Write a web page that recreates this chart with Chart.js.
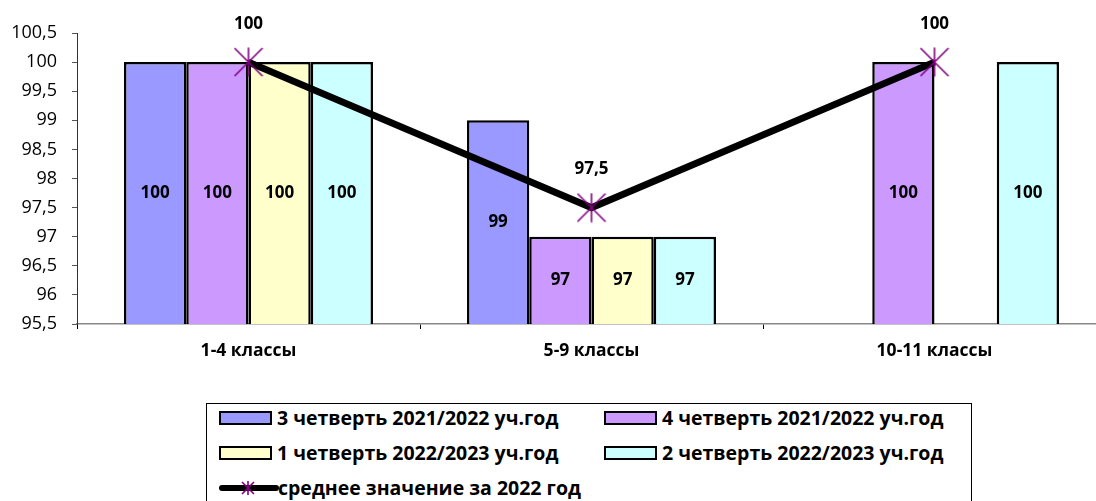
<!DOCTYPE html>
<html lang="ru">
<head>
<meta charset="utf-8">
<title>Успеваемость</title>
<script src="https://cdn.jsdelivr.net/npm/chart.js@4/dist/chart.umd.min.js"></script>
<style>
  html, body { margin: 0; padding: 0; background: #fff; overflow: hidden; }
  body { width: 1096px; height: 501px; position: relative; font-family: "Open Sans", sans-serif; }
  #wrap { position: absolute; left: 0; top: 0; width: 1106px; height: 380px; }
  #legend { position: absolute; left: 206px; top: 403px; width: 766px; height: 120px; border: 1px solid #000; box-sizing: border-box; }
  .item { position: absolute; height: 28px; font-weight: bold; font-size: 19.5px; line-height: 28px; color: #000; white-space: nowrap; }
  .sw { position: absolute; top: 7px; width: 53px; height: 14px; border: 2px solid #000; box-sizing: border-box; }
  .item span { position: absolute; top: 0; }
</style>
</head>
<body>
<div id="wrap"><canvas id="chart" width="1106" height="380"></canvas></div>
<div id="legend"></div>
<script>
  const categories = ["1-4 классы", "5-9 классы", "10-11 классы"];
  const seriesNames = [
    "3 четверть 2021/2022 уч.год",
    "4 четверть 2021/2022 уч.год",
    "1 четверть 2022/2023 уч.год",
    "2 четверть 2022/2023 уч.год"
  ];
  const q3_2122 = [100, 99, null];
  const q4_2122 = [100, 97, 100];
  const q1_2223 = [100, 97, null];
  const q2_2223 = [100, 97, 100];
  const avgName = "среднее значение за 2022 год";
  const avg2022 = [100, 97.5, 100];
  const yTicks = { min: 95.5, max: 100.5, step: 0.5 };

  const colors = ["#9999FF", "#CC99FF", "#FFFFCC", "#CCFFFF"];
  const fmt = v => String(Math.round(v * 10) / 10).replace(".", ",");

  // asterisk marker like the Excel "star"
  function makeStar(size, lw) {
    const c = document.createElement("canvas");
    c.width = size; c.height = size;
    const g = c.getContext("2d");
    g.strokeStyle = "#800080";
    g.lineWidth = lw;
    const m = size / 2, r = size / 2 - 1;
    g.beginPath();
    g.moveTo(m - r, m - r); g.lineTo(m + r, m + r);
    g.moveTo(m + r, m - r); g.lineTo(m - r, m + r);
    g.moveTo(m, m - r - 0.5); g.lineTo(m, m + r + 0.5);
    g.stroke();
    return c;
  }
  const star = makeStar(30, 1.6);

  // values in the middle of bars, above line points
  const valueLabels = {
    id: "valueLabels",
    afterDraw(chart) {
      const ctx = chart.ctx;
      const yScale = chart.scales.y;
      const bottom = yScale.getPixelForValue(yTicks.min);
      ctx.save();
      ctx.fillStyle = "#000";
      ctx.font = "bold 17px 'Open Sans'";
      ctx.textAlign = "center";
      ctx.textBaseline = "middle";
      chart.data.datasets.forEach((ds, i) => {
        const meta = chart.getDatasetMeta(i);
        meta.data.forEach((el, j) => {
          const v = ds.data[j];
          if (v == null) return;
          const top = yScale.getPixelForValue(v);
          if (ds.type === "line") {
            ctx.fillText(fmt(v), el.x, top - 38);
          } else {
            ctx.fillText(fmt(v), el.x, (top + bottom) / 2);
          }
        });
      });
      ctx.restore();
    }
  };

  const barSets = [q3_2122, q4_2122, q1_2223, q2_2223].map((d, i) => ({
    type: "bar",
    label: seriesNames[i],
    data: d,
    backgroundColor: colors[i],
    borderColor: "#000",
    borderWidth: 2.5,
    categoryPercentage: 0.726,
    barPercentage: 1,
    order: 1
  }));

  new Chart(document.getElementById("chart"), {
    data: {
      labels: categories,
      datasets: [
        {
          type: "line",
          label: avgName,
          data: avg2022,
          borderColor: "#000",
          borderWidth: 7,
          pointStyle: star,
          pointRadius: 15,
          tension: 0,
          order: 0
        },
        ...barSets
      ]
    },
    options: {
      responsive: false,
      animation: false,
      devicePixelRatio: 1,
      layout: { autoPadding: false, padding: { top: 33, right: 0, bottom: 0, left: 0 } },
      plugins: { legend: { display: false }, tooltip: { enabled: false } },
      scales: {
        x: {
          offset: true,
          grid: { offset: true, drawOnChartArea: false, drawTicks: true, tickLength: 5, tickColor: "#000" },
          border: { color: "#888", width: 1.5 },
          ticks: { color: "#000", font: { family: "Open Sans", size: 17.5, weight: "bold" }, padding: 12 },
          afterFit(s) { s.height = 56; }
        },
        y: {
          min: yTicks.min,
          max: yTicks.max,
          grid: { drawOnChartArea: false, drawTicks: true, tickLength: 5, tickColor: "#555" },
          border: { color: "#333", width: 1 },
          ticks: {
            stepSize: yTicks.step,
            color: "#000",
            font: { family: "Open Sans", size: 18 },
            padding: 15,
            callback: v => fmt(v)
          },
          afterFit(s) { s.width = 77; }
        }
      }
    },
    plugins: [valueLabels]
  });

  // legend
  const legend = document.getElementById("legend");
  const pos = [[12, 0], [397, 0], [12, 35], [397, 35]];
  [0, 1, 2, 3].forEach((k, n) => {
    const [x, y] = pos[n];
    const it = document.createElement("div");
    it.className = "item";
    it.style.left = x + "px";
    it.style.top = y + "px";
    const sw = document.createElement("div");
    sw.className = "sw";
    sw.style.left = "0px";
    sw.style.background = colors[k];
    const t = document.createElement("span");
    t.style.left = "58px";
    t.textContent = seriesNames[k];
    it.appendChild(sw); it.appendChild(t);
    legend.appendChild(it);
  });
  const li = document.createElement("div");
  li.className = "item";
  li.style.left = "12px";
  li.style.top = "70px";
  li.innerHTML = '<svg width="60" height="28" style="position:absolute;left:0;top:0">' +
    '<line x1="3" y1="14" x2="57" y2="14" stroke="#000" stroke-width="6" stroke-linecap="round"/>' +
    '<path d="M23 8 L35 20 M35 8 L23 20 M29 7 L29 21" stroke="#800080" stroke-width="1.6"/></svg>';
  const lt = document.createElement("span");
  lt.style.left = "59px";
  lt.textContent = avgName;
  li.appendChild(lt);
  legend.appendChild(li);
</script>
</body>
</html>
